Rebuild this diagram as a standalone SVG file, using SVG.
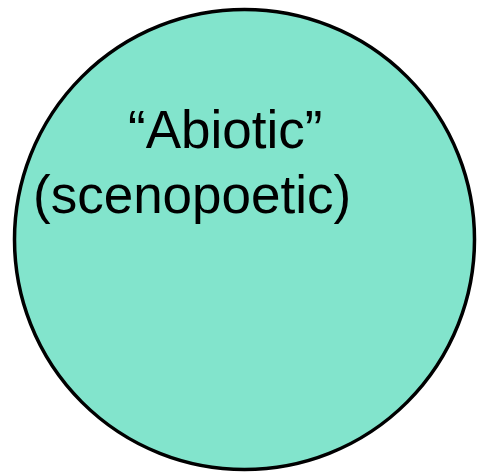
<svg xmlns="http://www.w3.org/2000/svg" width="478" height="474" viewBox="0 0 478 474">
<style>
.lbl{font-family:"Liberation Sans",Arial,sans-serif;font-size:53px;fill:#000}
</style>
<rect width="478" height="474" fill="#fff"/>
<g id="abiotic">
<circle cx="244.5" cy="239.5" r="230" fill="#82E4CC" stroke="#000" stroke-width="3.5"/>
<text class="lbl" x="128" y="148">“Abiotic”</text>
<text class="lbl" x="33" y="213">(scenopoetic)</text>
</g>
</svg>
